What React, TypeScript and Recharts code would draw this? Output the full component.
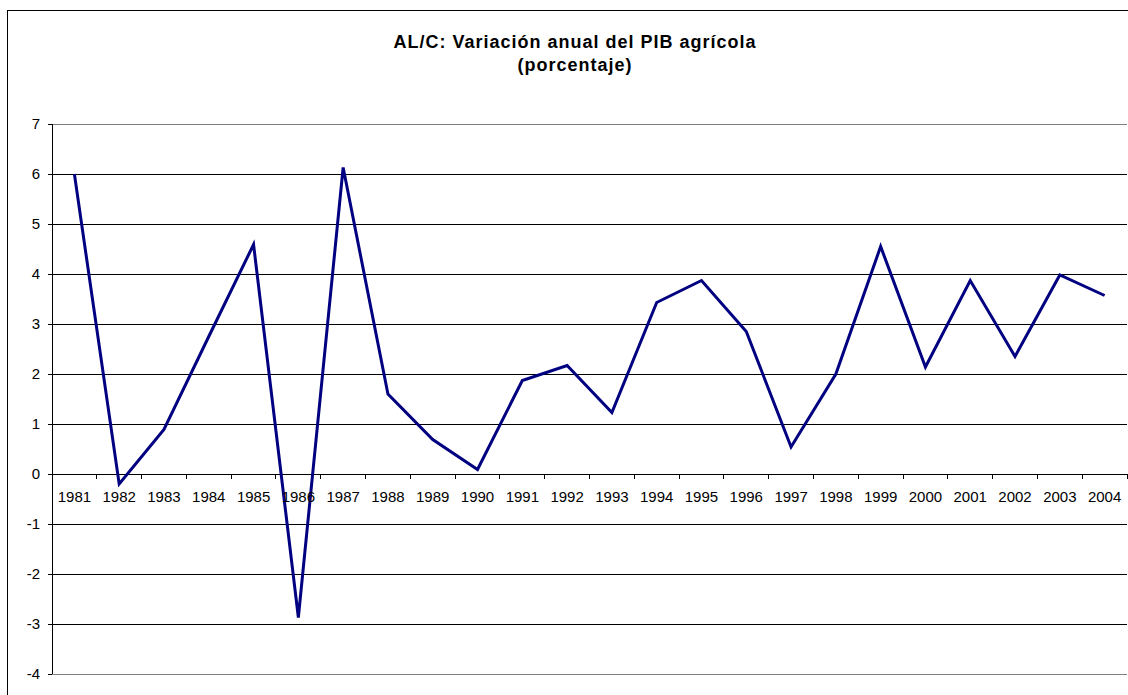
import React from "react";
import {
  LineChart,
  Line,
  XAxis,
  YAxis,
  CartesianGrid,
  ReferenceLine,
} from "recharts";

// años y variación anual del PIB agrícola (%)
const years = [
  "1981", "1982", "1983", "1984", "1985", "1986", "1987", "1988",
  "1989", "1990", "1991", "1992", "1993", "1994", "1995", "1996",
  "1997", "1998", "1999", "2000", "2001", "2002", "2003", "2004",
];
const variation = [
  6.0, -0.2, 0.89, 2.75, 4.59, -2.87, 6.13, 1.6,
  0.69, 0.09, 1.87, 2.17, 1.23, 3.43, 3.87, 2.85,
  0.54, 2.0, 4.55, 2.14, 3.87, 2.35, 3.98, 3.57,
];
const yTicks = [-4, -3, -2, -1, 0, 1, 2, 3, 4, 5, 6, 7];

const data = years.map((year, i) => ({ year, value: variation[i] }));

const W = 1120;
const H = 687;
const MARGIN = { top: 116, right: 1, bottom: 1, left: 4 };
const Y_AXIS_W = 40;
const X_AXIS_H = 20;
const Y_MIN = -4;
const Y_MAX = 7;

const PLOT_W = W - MARGIN.left - MARGIN.right - Y_AXIS_W;
const PLOT_H = H - MARGIN.top - MARGIN.bottom - X_AXIS_H;
const BAND = PLOT_W / years.length;
const ZERO_Y = MARGIN.top + (PLOT_H * Y_MAX) / (Y_MAX - Y_MIN);

const FONT = "'Liberation Sans', Arial, sans-serif";

const XTick = (props: any) => {
  const { x, payload, index } = props;
  return (
    <g>
      <line x1={x - BAND / 2} x2={x - BAND / 2} y1={ZERO_Y} y2={ZERO_Y + 5} stroke="#000" shapeRendering="crispEdges" />
      {index === years.length - 1 && (
        <line x1={x + BAND / 2} x2={x + BAND / 2} y1={ZERO_Y} y2={ZERO_Y + 5} stroke="#000" shapeRendering="crispEdges" />
      )}
      <text x={x} y={ZERO_Y + 28} textAnchor="middle" fontSize={15} fontFamily={FONT} fill="#000">
        {payload.value}
      </text>
    </g>
  );
};

export default function App() {
  return (
    <div
      style={{
        position: "fixed",
        left: 0,
        top: 0,
        width: 1128,
        height: 695,
        overflow: "hidden",
        background: "#fff",
        fontFamily: FONT,
      }}
    >
      {/* marco del gráfico */}
      <div
        style={{
          position: "absolute",
          left: 7,
          top: 10,
          width: 1160,
          height: 720,
          border: "1px solid #000",
          boxSizing: "border-box",
        }}
      />
      <svg width={1128} height={100} style={{ position: "absolute", left: 0, top: 0 }}>
        <text x={575} y={48} textAnchor="middle" fontSize={18} fontWeight="bold" letterSpacing={1} fontFamily={FONT}>
          AL/C: Variación anual del PIB agrícola
        </text>
        <text x={575} y={71} textAnchor="middle" fontSize={18} fontWeight="bold" letterSpacing={1} fontFamily={FONT}>
          (porcentaje)
        </text>
      </svg>
      <div style={{ position: "absolute", left: 8, top: 8 }}>
        <LineChart width={W} height={H} data={data} margin={MARGIN}>
          <CartesianGrid vertical={false} stroke="#000" shapeRendering="crispEdges" />
          <XAxis
            dataKey="year"
            type="category"
            scale="band"
            height={X_AXIS_H}
            axisLine={false}
            tickLine={false}
            interval={0}
            tick={(p: any) => <XTick {...p} />}
          />
          <YAxis
            type="number"
            domain={[Y_MIN, Y_MAX]}
            ticks={yTicks}
            interval={0}
            width={Y_AXIS_W}
            tickSize={4}
            tickMargin={8}
            axisLine={{ stroke: "#000", shapeRendering: "crispEdges" }}
            tickLine={{ stroke: "#000", shapeRendering: "crispEdges" }}
            tick={{ fontSize: 15, fill: "#000", fontFamily: FONT }}
          />
          <YAxis
            yAxisId="right"
            orientation="right"
            type="number"
            domain={[Y_MIN, Y_MAX]}
            width={0}
            tick={false}
            tickLine={false}
            axisLine={{ stroke: "#808080", shapeRendering: "crispEdges" }}
          />
          <ReferenceLine y={Y_MAX} stroke="#808080" shapeRendering="crispEdges" />
          <ReferenceLine y={Y_MIN} stroke="#808080" shapeRendering="crispEdges" />
          <Line
            type="linear"
            dataKey="value"
            stroke="#000080"
            strokeWidth={3}
            dot={false}
            activeDot={false}
            isAnimationActive={false}
          />
        </LineChart>
      </div>
    </div>
  );
}
